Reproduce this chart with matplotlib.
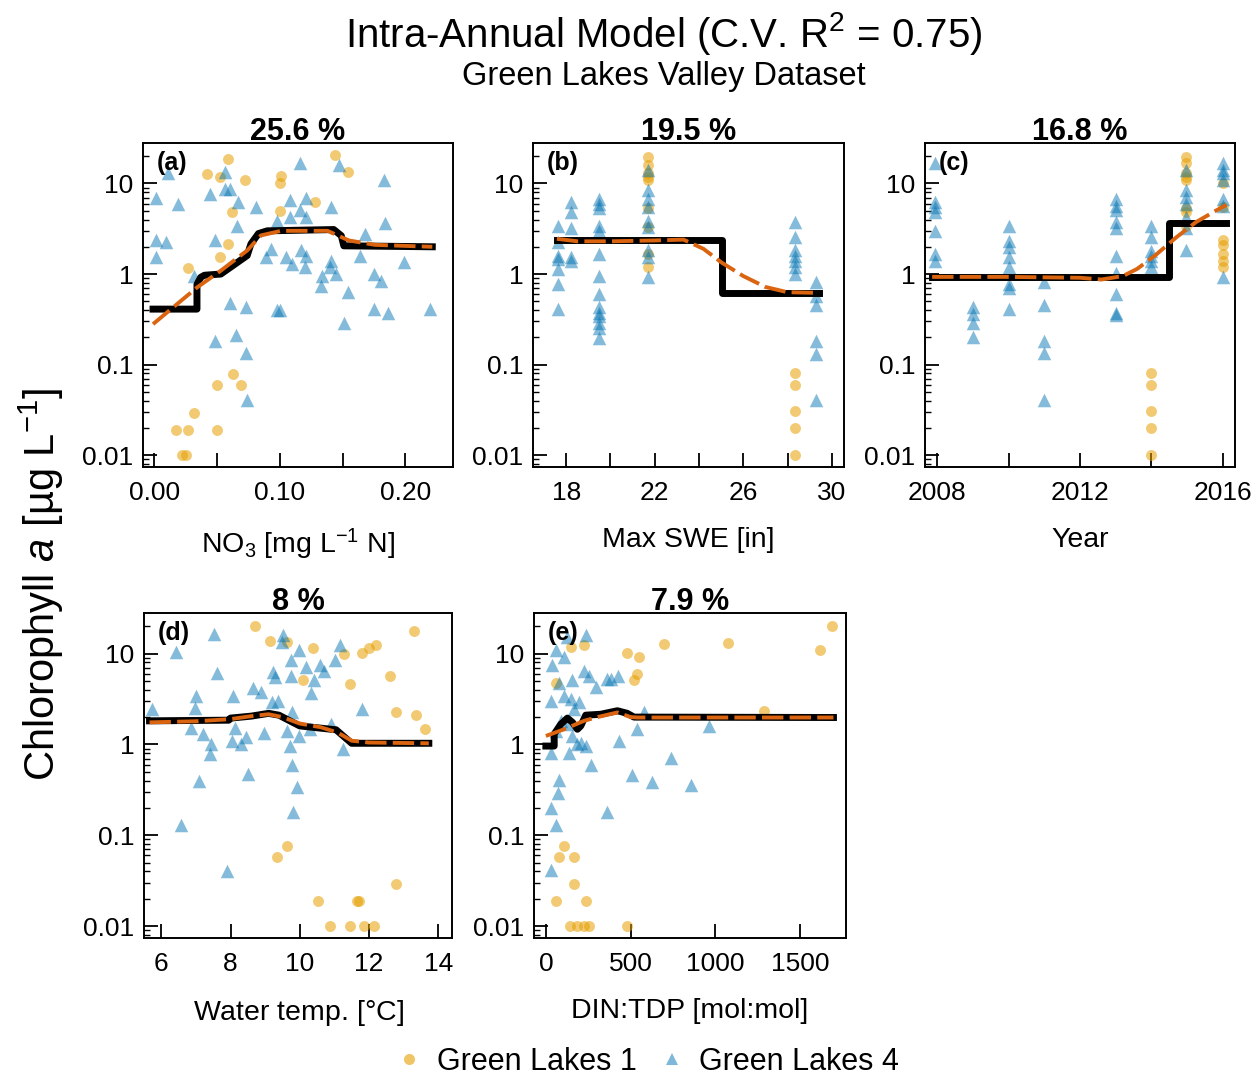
import matplotlib

matplotlib.use("Agg")
import matplotlib.pyplot as plt
import numpy as np
from matplotlib.lines import Line2D

plt.rcParams["font.family"] = ["Liberation Sans", "DejaVu Sans"]
plt.rcParams["mathtext.fontset"] = "custom"
plt.rcParams["mathtext.rm"] = "Liberation Sans"
plt.rcParams["mathtext.it"] = "Liberation Sans:italic"
plt.rcParams["mathtext.bf"] = "Liberation Sans:bold"

GL1_COLOR = "#E69F00"
GL4_COLOR = "#0072B2"
PD_COLOR = "#000000"
FIT_COLOR = "#DA6410"

# ---- (a) NO3 ----
NO3_GL1_X = [0.059, 0.042, 0.052, 0.072, 0.101, 0.100, 0.144, 0.154, 0.062, 0.128, 0.100, 0.059,
             0.052, 0.027, 0.063, 0.050, 0.069, 0.032, 0.017, 0.027, 0.050, 0.022, 0.025]
NO3_GL1_Y = [18.5, 12.6, 11.9, 10.9, 12.0, 10.0, 20.5, 13.3, 4.8, 6.3, 5.0, 2.15,
             1.53, 1.16, 0.079, 0.059, 0.059, 0.029, 0.019, 0.019, 0.019, 0.010, 0.010]
NO3_GL4_X = [0.011, 0.116, 0.147, 0.056, 0.056, 0.060, 0.044, 0.001, 0.019, 0.183, 0.067, 0.081,
             0.108, 0.121, 0.116, 0.121, 0.141, 0.098, 0.108, 0.066, 0.184, 0.001, 0.009, 0.001,
             0.048, 0.168, 0.089, 0.093, 0.105, 0.117, 0.121, 0.110, 0.120, 0.141, 0.140, 0.134,
             0.145, 0.133, 0.164, 0.199, 0.175, 0.181, 0.154, 0.032, 0.060, 0.073, 0.098, 0.100,
             0.175, 0.186, 0.220, 0.151, 0.048, 0.065, 0.073, 0.074]
NO3_GL4_Y = [12.9, 16.7, 15.9, 13.5, 8.8, 8.8, 7.7, 7.0, 5.9, 10.9, 6.3, 5.5,
             6.5, 7.0, 5.1, 4.3, 5.5, 3.9, 4.3, 3.4, 3.7, 2.4, 2.25, 1.56,
             2.4, 2.8, 1.53, 1.9, 1.53, 1.82, 1.6, 1.29, 1.19, 1.4, 1.2, 0.96,
             1.0, 0.74, 1.6, 1.35, 1.0, 0.84, 0.63, 0.96, 0.48, 0.43, 0.40, 0.40,
             0.41, 0.37, 0.41, 0.29, 0.18, 0.21, 0.135, 0.041]
NO3_PD_X = [-0.001, 0.034, 0.034, 0.037, 0.040, 0.053, 0.074, 0.077, 0.083, 0.090, 0.143, 0.149, 0.151, 0.2215]
NO3_PD_Y = [0.41, 0.41, 0.77, 0.92, 0.97, 1.0, 1.6, 2.15, 2.8, 3.0, 3.1, 2.65, 2.05, 2.0]
NO3_FIT_X = [-0.001, 0.034, 0.053, 0.074, 0.085, 0.101, 0.138, 0.155, 0.176, 0.2215]
NO3_FIT_Y = [0.28, 0.71, 1.09, 1.82, 2.67, 3.0, 3.0, 2.35, 2.1, 2.0]

# ---- (b) Max SWE ----
SWE_GL4_COLS = [17.64, 18.2, 19.5, 21.7, 28.33, 29.3]
SWE_GL4_VALS = [
    [3.4, 2.25, 1.6, 1.47, 1.14, 0.77, 0.41],
    [6.3, 4.8, 3.2, 1.53, 1.4],
    [6.8, 6.0, 5.3, 3.4, 3.0, 1.67, 0.96, 0.6, 0.43, 0.375, 0.34, 0.29, 0.255, 0.198],
    [14, 8.4, 6.8, 5.5, 3.9, 3.3, 1.82, 1.53, 0.92],
    [3.75, 2.55, 1.82, 1.6, 1.4, 1.19, 1.0],
    [0.81, 0.57, 0.46, 0.18, 0.13, 0.041],
]
SWE_GL1_COLS = [21.7, 28.33]
SWE_GL1_VALS = [
    [19.8, 16, 12.9, 11.9, 10.9, 5.3, 3.3, 1.67, 1.19],
    [0.081, 0.06, 0.031, 0.02, 0.01],
]
SWE_PD_X = [17.58, 25.03, 25.03, 29.4]
SWE_PD_Y = [2.4, 2.4, 0.61, 0.61]
SWE_FIT_X = [17.58, 18.5, 20.0, 22.0, 23.3, 24.2, 25.0, 26.0, 27.0, 28.0, 29.4]
SWE_FIT_Y = [2.45, 2.3, 2.3, 2.35, 2.4, 1.9, 1.35, 0.95, 0.72, 0.63, 0.62]

# ---- (c) Year ----
YEAR_GL4_COLS = [2007.95, 2009.0, 2010.0, 2011.0, 2013.0, 2014.0, 2014.97, 2016.0]
YEAR_GL4_VALS = [
    [16.7, 6.3, 5.5, 4.8, 3.0, 1.67, 1.4],
    [0.43, 0.36, 0.29, 0.2],
    [3.4, 2.3, 2.0, 1.53, 1.19, 0.77, 0.71, 0.41],
    [0.81, 0.46, 0.18, 0.135, 0.041],
    [6.8, 5.7, 5.1, 3.75, 3.2, 1.6, 1.04, 0.6, 0.375, 0.35],
    [3.4, 2.55, 1.8, 1.6, 1.4, 1.19],
    [14, 8.4, 7.1, 6.0, 4.3, 3.2, 1.82],
    [16.7, 14, 12.9, 10.9, 6.8, 5.7, 0.92],
]
YEAR_GL1_COLS = [2014.0, 2014.97, 2016.0]
YEAR_GL1_VALS = [
    [0.081, 0.06, 0.031, 0.02, 0.01],
    [19.8, 16.7, 12.9, 11.9, 10.9, 5.3, 4.8, 3.4],
    [10, 5.5, 2.4, 2.07, 1.67, 1.4, 1.19],
]
YEAR_PD_X = [2007.86, 2014.5, 2014.5, 2016.1]
YEAR_PD_Y = [0.93, 0.93, 3.66, 3.66]
YEAR_FIT_X = [2007.86, 2010.0, 2012.0, 2012.6, 2013.2, 2013.6, 2014.1, 2014.7, 2015.25, 2015.8, 2016.1]
YEAR_FIT_Y = [0.93, 0.93, 0.91, 0.87, 0.95, 1.14, 1.6, 2.55, 3.75, 5.0, 5.8]

# ---- (d) Water temp ----
TEMP_GL4_X = [5.74, 6.43, 7.52, 7.61, 7.00, 6.97, 8.08, 8.64, 8.87, 6.87, 7.21, 7.45, 7.40, 8.13,
              8.03, 8.29, 8.44, 8.96, 9.24, 9.29, 9.53, 9.48, 9.99, 9.74, 9.74, 10.17, 10.59, 10.70,
              10.41, 10.32, 11.17, 11.03, 11.80, 9.19, 9.38, 9.77, 9.62, 9.99, 10.30, 10.90, 11.25,
              9.72, 9.77, 9.91, 9.80, 8.51, 7.09, 6.58, 7.90]
TEMP_GL4_Y = [2.45, 10.4, 16.3, 6.1, 3.4, 2.55, 3.4, 4.2, 3.75, 1.5, 1.29, 1.0, 0.79, 1.53,
              1.09, 1.0, 1.2, 1.35, 6.25, 5.5, 16.0, 13.5, 11.1, 8.4, 5.7, 7.1, 7.4, 6.5,
              5.1, 3.65, 12.4, 8.4, 2.45, 2.9, 3.0, 2.25, 1.4, 1.24, 1.47, 1.7, 0.88,
              0.96, 0.6, 0.34, 0.18, 0.47, 0.40, 0.13, 0.04]
TEMP_GL1_X = [8.71, 9.14, 9.62, 10.38, 11.29, 11.80, 12.00, 12.20, 13.30, 11.46, 12.60, 10.10, 12.79,
              13.37, 13.63, 9.62, 9.33, 12.79, 10.54, 11.70, 11.65, 10.88, 11.44, 11.86, 12.15]
TEMP_GL1_Y = [20.0, 13.8, 13.5, 11.4, 10.0, 10.1, 11.4, 12.6, 17.9, 4.6, 5.6, 5.1, 2.3,
              2.1, 1.47, 0.077, 0.058, 0.029, 0.019, 0.019, 0.019, 0.010, 0.010, 0.010, 0.010]
TEMP_PD_X = [5.66, 7.95, 8.0, 8.6, 9.1, 9.4, 9.8, 10.0, 11.05, 11.3, 11.5, 13.73]
TEMP_PD_Y = [1.82, 1.85, 1.95, 2.05, 2.2, 2.1, 1.75, 1.6, 1.45, 1.2, 1.03, 1.03]
TEMP_FIT_X = [5.66, 7.0, 8.0, 8.6, 9.1, 9.5, 10.0, 10.6, 11.1, 11.5, 12.0, 13.73]
TEMP_FIT_Y = [1.75, 1.8, 1.9, 2.05, 2.15, 2.0, 1.7, 1.55, 1.35, 1.1, 1.05, 1.03]

# ---- (e) DIN:TDP ----
DIN_GL4_X = [127, 59, 108, 39, 78, 157, 226, 255, 294, 363, 426, 382, 29, 108, 147, 196, 167, 88,
             137, 59, 157, 206, 235, 186, 29, 137, 265, 431, 539, 578, 961, 735, 510, 627, 853,
             78, 69, 29, 59, 363, 29, 235]
DIN_GL4_Y = [15.3, 10.9, 9.2, 7.4, 4.8, 5.1, 6.5, 5.7, 4.3, 5.3, 5.7, 5.3, 3.0, 3.4, 3.2, 2.9, 2.45, 1.82,
             1.67, 1.4, 1.24, 1.04, 0.96, 1.0, 0.81, 0.81, 0.6, 1.09, 1.47, 2.25, 1.6, 0.71, 0.46, 0.39, 0.36,
             0.41, 0.29, 0.2, 0.13, 0.18, 0.041, 16.0]
DIN_GL1_X = [1686, 1618, 696, 1073, 480, 549, 535, 520, 147, 226, 1284, 59, 108, 78, 163, 167, 59,
             235, 143, 186, 226, 255, 480]
DIN_GL1_Y = [20.0, 11.1, 12.9, 13.2, 10.2, 9.2, 6.0, 5.1, 11.9, 12.4, 2.35, 4.8, 0.077, 0.058, 0.058,
             0.029, 0.019, 0.019, 0.010, 0.010, 0.010, 0.010, 0.010]
DIN_PD_X = [0, 49, 49, 88, 127, 157, 186, 206, 235, 324, 422, 480, 520, 1696]
DIN_PD_Y = [0.96, 0.96, 1.3, 1.67, 1.95, 1.75, 1.47, 1.6, 2.1, 2.15, 2.35, 2.2, 2.0, 1.98]
DIN_FIT_X = [0, 108, 225, 304, 422, 500, 540, 1696]
DIN_FIT_Y = [1.24, 1.47, 1.82, 2.0, 2.25, 2.0, 1.98, 1.98]

IMPORTANCE = ["25.6 %", "19.5 %", "16.8 %", "8 %", "7.9 %"]
PANEL_TAGS = ["(a)", "(b)", "(c)", "(d)", "(e)"]
X_LABELS = ["NO$_3$ [mg L$^{-1}$ N]", "Max SWE [in]", "Year", "Water temp. [$\\degree$C]", "DIN:TDP [mol:mol]"]


def _cols(cols, vals):
    x = np.concatenate([np.full(len(v), c) for c, v in zip(cols, vals)])
    y = np.concatenate([np.asarray(v, dtype=float) for v in vals])
    return x, y


swe_gl1 = _cols(SWE_GL1_COLS, SWE_GL1_VALS)
swe_gl4 = _cols(SWE_GL4_COLS, SWE_GL4_VALS)
year_gl1 = _cols(YEAR_GL1_COLS, YEAR_GL1_VALS)
year_gl4 = _cols(YEAR_GL4_COLS, YEAR_GL4_VALS)

panels = [
    dict(gl1=(NO3_GL1_X, NO3_GL1_Y), gl4=(NO3_GL4_X, NO3_GL4_Y), pd=(NO3_PD_X, NO3_PD_Y),
         fit=(NO3_FIT_X, NO3_FIT_Y), xlim=(-0.009, 0.238),
         ticks=[0, 0.05, 0.10, 0.15, 0.20], labels=["0.00", "", "0.10", "", "0.20"],
         rect=(143, 143, 310, 324)),
    dict(gl1=swe_gl1, gl4=swe_gl4, pd=(SWE_PD_X, SWE_PD_Y), fit=(SWE_FIT_X, SWE_FIT_Y),
         xlim=(16.5, 30.55), ticks=[18, 20, 22, 24, 26, 28, 30],
         labels=["18", "", "22", "", "26", "", "30"], rect=(533, 143, 311, 324)),
    dict(gl1=year_gl1, gl4=year_gl4, pd=(YEAR_PD_X, YEAR_PD_Y), fit=(YEAR_FIT_X, YEAR_FIT_Y),
         xlim=(2007.66, 2016.34), ticks=[2008, 2010, 2012, 2014, 2016],
         labels=["2008", "", "2012", "", "2016"], rect=(925, 143, 310, 324)),
    dict(gl1=(TEMP_GL1_X, TEMP_GL1_Y), gl4=(TEMP_GL4_X, TEMP_GL4_Y), pd=(TEMP_PD_X, TEMP_PD_Y),
         fit=(TEMP_FIT_X, TEMP_FIT_Y), xlim=(5.5, 14.4), ticks=[6, 8, 10, 12, 14],
         labels=["6", "8", "10", "12", "14"], rect=(144, 613, 308, 325)),
    dict(gl1=(DIN_GL1_X, DIN_GL1_Y), gl4=(DIN_GL4_X, DIN_GL4_Y), pd=(DIN_PD_X, DIN_PD_Y),
         fit=(DIN_FIT_X, DIN_FIT_Y), xlim=(-70, 1770), ticks=[0, 500, 1000, 1500],
         labels=["0", "500", "1000", "1500"], rect=(534, 613, 312, 325)),
]

W, H = 1260, 1078
fig = plt.figure(figsize=(W / 100, H / 100), dpi=100, facecolor="white")

for i, p in enumerate(panels):
    left, top, w, h = p["rect"]
    ax = fig.add_axes([left / W, 1 - (top + h) / H, w / W, h / H])
    ax.scatter(p["gl1"][0], p["gl1"][1], s=62, marker="o", color=GL1_COLOR, alpha=0.55,
               linewidths=0, zorder=2)
    ax.scatter(p["gl4"][0], p["gl4"][1], s=95, marker="^", color=GL4_COLOR, alpha=0.48,
               linewidths=0, zorder=2)
    ax.plot(p["pd"][0], p["pd"][1], color=PD_COLOR, lw=5.0, solid_joinstyle="round", zorder=3)
    ax.plot(p["fit"][0], p["fit"][1], color=FIT_COLOR, lw=2.8, dashes=(5.5, 1.6), zorder=4)
    ax.set_yscale("log")
    ax.set_ylim(0.0074, 28)
    ax.set_xlim(*p["xlim"])
    ax.set_yticks([0.01, 0.1, 1, 10])
    ax.set_yticklabels(["0.01", "0.1", "1", "10"])
    ax.set_xticks(p["ticks"])
    ax.set_xticklabels(p["labels"])
    ax.tick_params(axis="both", which="major", direction="in", length=10, width=1.3,
                   labelsize=19)
    ax.tick_params(axis="x", which="major", pad=10)
    ax.tick_params(axis="y", which="major", pad=7)
    ax.tick_params(axis="y", which="minor", direction="in", length=4.5, width=1.0)
    ax.tick_params(axis="x", which="minor", bottom=False)
    for sp in ax.spines.values():
        sp.set_linewidth(1.4)
    ax.set_title(IMPORTANCE[i], fontsize=22, fontweight="bold", pad=2)
    ax.text(0.045, 0.975, PANEL_TAGS[i], transform=ax.transAxes, fontsize=18,
            fontweight="bold", ha="left", va="top")
    ax.set_xlabel(X_LABELS[i], fontsize=20.5, labelpad=16)

fig.text(0.527, 0.969, "Intra-Annual Model (C.V. R$^2$ = 0.75)", ha="center", va="center", fontsize=29)
fig.text(0.527, 0.929, "Green Lakes Valley Dataset", ha="center", va="center", fontsize=23.5)
fig.text(0.033, 0.458, "Chlorophyll $\\it{a}$ [\u00b5g L$^{-1}$]", rotation=90,
         ha="center", va="center", fontsize=30)

handles = [
    Line2D([], [], ls="none", marker="o", ms=8, color=GL1_COLOR, alpha=0.6, mew=0),
    Line2D([], [], ls="none", marker="^", ms=9, color=GL4_COLOR, alpha=0.5, mew=0),
]
fig.legend(handles, ["Green Lakes 1", "Green Lakes 4"], loc="center",
           bbox_to_anchor=(0.512, 0.015), ncol=2, frameon=False, fontsize=22,
           handletextpad=0.3, columnspacing=0.55, handlelength=1.2)

fig.savefig("out.png", dpi=100, facecolor="white")
